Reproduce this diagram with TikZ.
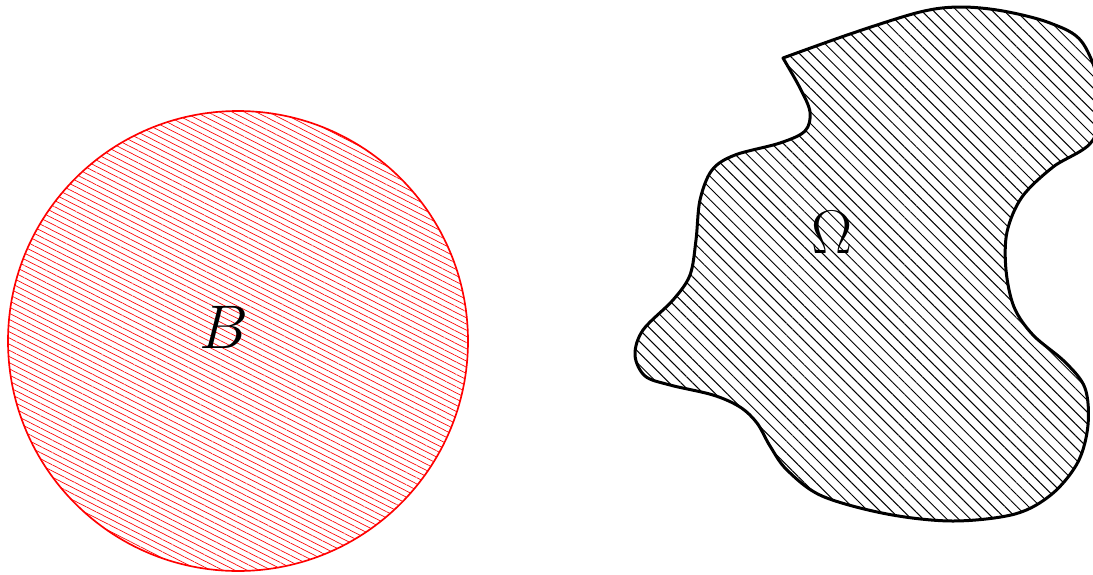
\documentclass[tikz,border=0pt]{standalone}
\usepackage{graphicx}
\usetikzlibrary{patterns.meta}
\tikzset{
  ballshape/.style={draw=red, line width=0.5pt,
    pattern={Lines[angle=-27,distance=1.65pt,line width=0.2pt]}, pattern color=red},
  domainshape/.style={draw=black, line width=0.9pt, line join=round,
    pattern={Lines[angle=-45,distance=2.5pt,line width=0.3pt]}, pattern color=black},
  lbl/.style={font=\LARGE, inner sep=0pt}
}
\begin{document}
\begin{tikzpicture}[x=0.3pt,y=-0.3pt]
\clip (0,0) rectangle (1093,574);
\draw[ballshape] (238,341) circle[radius=230];
\node[lbl] (B) at (224,327) {\scalebox{1.07}{$B$}};
\draw[domainshape] plot[smooth, tension=0.55] coordinates {
  (783,58) (853,33) (920,12) (960,7) (1003,11) (1050,23) (1082,42) (1100,90)
  (1093,140) (1053,167) (1022,197) (1007,232) (1006,270) (1014,307) (1033,335)
  (1065,362) (1085,388) (1088,425) (1078,462) (1052,494) (1015,514) (953,521)
  (887,514) (822,496) (787,470) (770,446) (757,423) (740,407) (713,395)
  (670,385) (645,376) (635,355) (643,330) (673,300) (690,275) (696,240)
  (700,200) (712,170) (735,155) (780,143) (805,131) (810,112) (800,88) (783,58)} -- cycle;
\node[lbl] (Omega) at (832,232) {\scalebox{1.07}{$\Omega$}};
\end{tikzpicture}
\end{document}
